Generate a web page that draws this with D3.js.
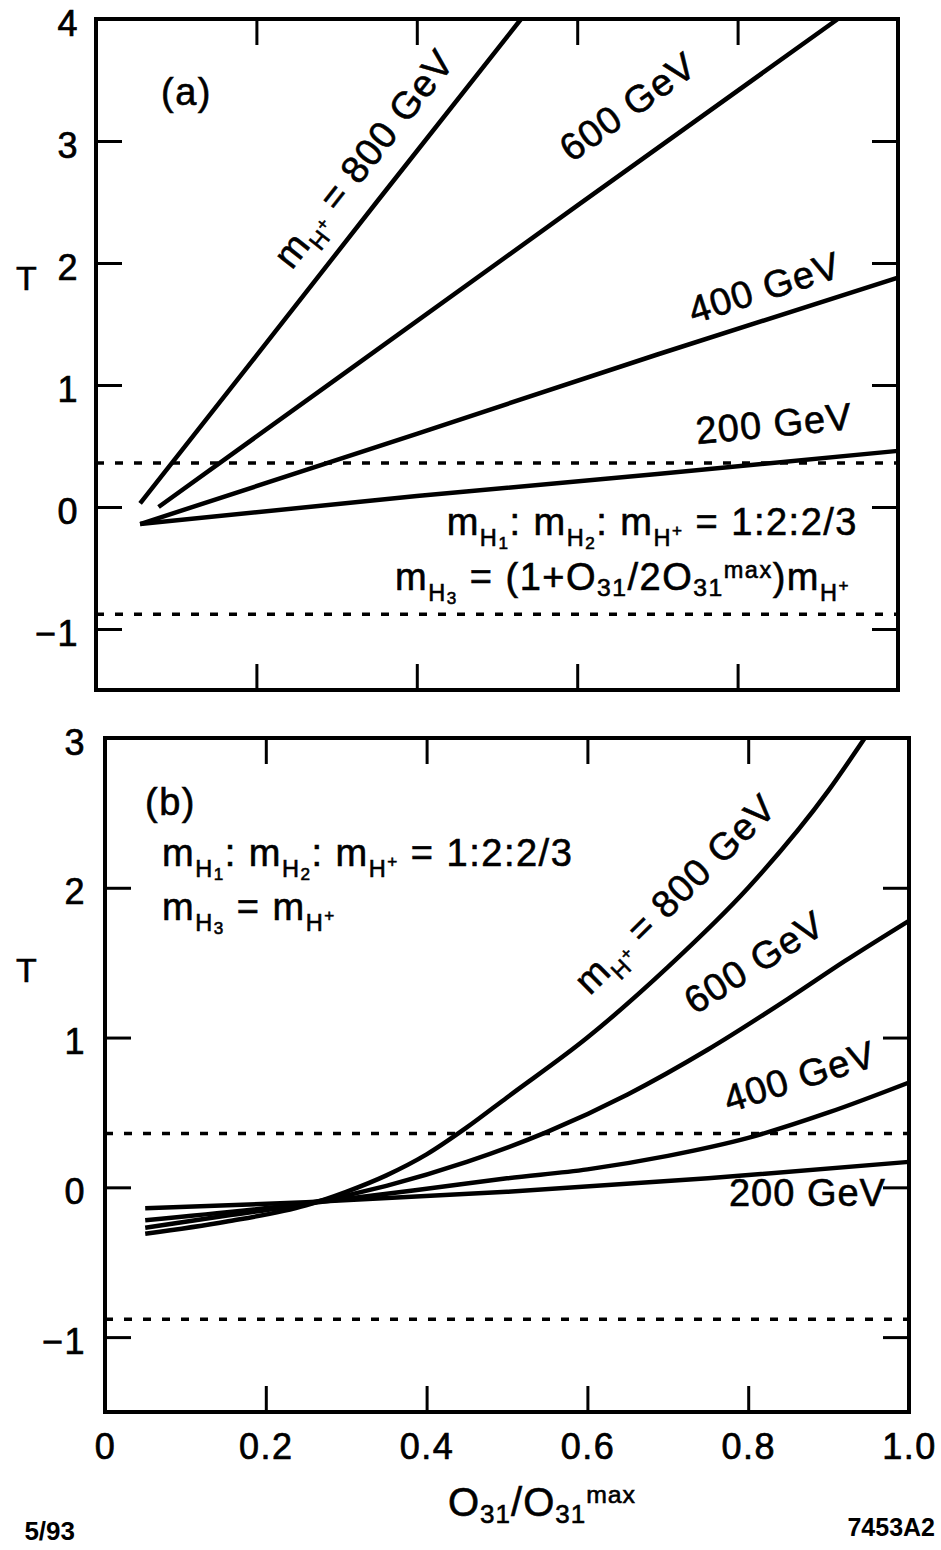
<!DOCTYPE html>
<meta charset="utf-8">
<script src="https://cdn.jsdelivr.net/npm/d3@7"></script>
<style>
  body { margin: 0; background: #fff; }
  text { font-family: "Liberation Sans", Arial, Helvetica, sans-serif; fill: #000; white-space: pre; }
</style>
<div id="chart"></div>
<script>
// shared x axis
var xTickVals = [0.2, 0.4, 0.6, 0.8];
var xLabelVals = [0, 0.2, 0.4, 0.6, 0.8, 1.0];
var xLabelText = ["0", "0.2", "0.4", "0.6", "0.8", "1.0"];
// experimental bounds on T (dashed)
var tBand = [0.36, -0.88];

// panel (a)
var aYTicks = [-1, 0, 1, 2, 3, 4];
var a800 = [[0.055, 0.03], [0.2, 1.24], [0.35, 2.5], [0.53, 4.0]];
var a600 = [[0.078, 0.0], [0.3, 1.05], [0.6, 2.47], [0.925, 4.0]];
var a400 = [[0.055, -0.14], [0.4, 0.6], [0.7, 1.25], [1.0, 1.88]];
var a200 = [[0.055, -0.14], [0.4, 0.09], [0.7, 0.27], [1.0, 0.46]];

// panel (b)
var bYTicks = [-1, 0, 1, 2, 3];
var b800 = [[0.05, -0.31], [0.15, -0.23], [0.25, -0.12], [0.3, -0.03], [0.35, 0.08], [0.4, 0.22],
            [0.45, 0.4], [0.5, 0.6], [0.6, 1.0], [0.7, 1.47], [0.8, 2.0], [0.9, 2.65], [0.945, 3.0]];
var b600 = [[0.05, -0.27], [0.15, -0.19], [0.25, -0.11], [0.35, 0.01], [0.45, 0.17], [0.55, 0.37],
            [0.65, 0.62], [0.75, 0.92], [0.85, 1.26], [0.92, 1.51], [1.0, 1.78]];
var b400 = [[0.05, -0.22], [0.25, -0.11], [0.4, -0.01], [0.5, 0.06], [0.6, 0.12], [0.7, 0.21],
            [0.8, 0.33], [0.9, 0.5], [1.0, 0.7]];
var b200 = [[0.05, -0.14], [0.25, -0.1], [0.5, -0.03], [0.75, 0.06], [1.0, 0.17]];

var svg = d3.select("#chart").append("svg")
    .attr("width", 941)
    .attr("height", 1550);

// text with sub/superscripts: parts = [[text, level]]
// levels: s = subscript, ss = subscript of subscript, sp = superscript on subscript,
//         d = digit subscript, u = superscript
function rich(t, parts, fs) {
  var lv = { "": [0, 1], s: [0.28, 0.62], ss: [0.38, 0.45], sp: [0.02, 0.45],
             d: [0.17, 0.65], u: [-0.32, 0.62] };
  var cur = 0;
  parts.forEach(function(p) {
    var l = lv[p[1]];
    var off = l[0] * fs;
    t.append("tspan")
      .attr("dy", off - cur)
      .style("font-size", (l[1] * fs) + "px")
      .text(p[0]);
    cur = off;
  });
}

function panel(cfg) {
  var x = d3.scaleLinear().domain([0, 1]).range(cfg.xr);
  var y = d3.scaleLinear().domain(cfg.yd).range(cfg.yr);
  var g = svg.append("g");

  // dashed bounds
  g.selectAll(".band").data(tBand).enter().append("line")
    .attr("x1", x(0)).attr("x2", x(1))
    .attr("y1", function(d) { return y(d); })
    .attr("y2", function(d) { return y(d); })
    .attr("stroke", "#000")
    .attr("stroke-width", 3.5)
    .attr("stroke-dasharray", "8,11");

  // curves
  var line = d3.line()
    .x(function(d) { return x(d[0]); })
    .y(function(d) { return y(d[1]); })
    .curve(cfg.curve);
  g.selectAll(".curve").data(cfg.series).enter().append("path")
    .attr("d", line)
    .attr("fill", "none")
    .attr("stroke", "#000")
    .attr("stroke-width", 4.5);

  // inward ticks on all four sides
  var tk = 26;
  function style(a) {
    a.select(".domain").remove();
    a.selectAll(".tick line").attr("stroke", "#000").attr("stroke-width", 3);
    a.attr("font-family", null).attr("font-size", null);
    a.selectAll("text").style("font-size", "36px").style("letter-spacing", "1.5px")
      .attr("dy", "0.45em")
      .attr("stroke", "#000").attr("stroke-width", 0.7);
  }
  g.append("g").attr("transform", "translate(" + x(0) + ",0)")
    .call(d3.axisLeft(y).tickValues(cfg.yTicks).tickSize(-tk).tickPadding(cfg.yPad)
      .tickFormat(function(d) { return d < 0 ? "\u2212" + (-d) : d; }))
    .call(style);
  g.append("g").attr("transform", "translate(" + x(1) + ",0)")
    .call(d3.axisRight(y).tickValues(cfg.yTicks).tickSize(-tk).tickFormat(""))
    .call(style);
  g.append("g").attr("transform", "translate(0," + y(cfg.yd[1]) + ")")
    .call(d3.axisTop(x).tickValues(xTickVals).tickSize(-tk).tickFormat(""))
    .call(style);
  g.append("g").attr("transform", "translate(0," + y(cfg.yd[0]) + ")")
    .call(d3.axisBottom(x).tickValues(xTickVals).tickSize(-tk).tickFormat(""))
    .call(style);

  // frame
  g.append("rect")
    .attr("x", x(0)).attr("y", y(cfg.yd[1]))
    .attr("width", x(1) - x(0))
    .attr("height", y(cfg.yd[0]) - y(cfg.yd[1]))
    .attr("fill", "none")
    .attr("stroke", "#000")
    .attr("stroke-width", 4);

  return { x: x, y: y, g: g };
}

var FS = 38;

// put a label parallel to a curve, offset perpendicular (positive = upper-left side)
function curveLabel(p, series, xAt, off, parts, flat) {
  var i = 0;
  while (i < series.length - 2 && series[i + 1][0] < xAt) i++;
  var a = series[i], b = series[i + 1];
  var ax = p.x(a[0]), ay = p.y(a[1]), bx = p.x(b[0]), by = p.y(b[1]);
  var f = (p.x(xAt) - ax) / (bx - ax);
  var px = ax + f * (bx - ax), py = ay + f * (by - ay);
  var len = Math.hypot(bx - ax, by - ay);
  var dx = (bx - ax) / len, dy = (by - ay) / len;
  var cx = px + dy * off, cy = py - dx * off;
  var ang = flat ? 0 : Math.atan2(by - ay, bx - ax) * 180 / Math.PI;
  var t = p.g.append("text")
    .attr("transform", "translate(" + cx + "," + cy + ") rotate(" + ang + ")")
    .attr("text-anchor", "middle")
    .attr("stroke", "#000").attr("stroke-width", 0.6)
    .style("letter-spacing", "1px")
    .style("font-size", FS + "px");
  var inner = t.append("tspan").attr("dy", "0.36em");
  rich(inner, parts, FS);
}

function note(x, y, anchor, parts, fs, ls) {
  fs = fs || FS;
  var t = svg.append("text").attr("x", x).attr("y", y).attr("text-anchor", anchor)
    .attr("stroke", "#000").attr("stroke-width", 0.6)
    .style("letter-spacing", (ls == null ? 1.5 : ls) + "px")
    .style("font-size", fs + "px");
  rich(t, parts, fs);
}

var pa = panel({
  xr: [96, 898], yd: [-1.5, 4], yr: [690, 19], yTicks: aYTicks, yPad: 17,
  series: [a800, a600, a400, a200], curve: d3.curveLinear
});
var pb = panel({
  xr: [105, 909], yd: [-1.5, 3], yr: [1412, 738], yTicks: bYTicks, yPad: 19,
  series: [b800, b600, b400, b200], curve: d3.curveMonotoneX
});

var mHp = [["m", ""], ["H", "s"], ["+", "sp"]];
var ratioParts = [["m", ""], ["H", "s"], ["1", "ss"], [": m", ""], ["H", "s"], ["2", "ss"],
                  [": m", ""], ["H", "s"], ["+", "sp"], [" = 1:2:2/3", ""]];

// panel (a) annotations
curveLabel(pa, a800, 0.37, 24, mHp.concat([[" = 800 GeV", ""]]));
curveLabel(pa, a600, 0.70, 38, [["600 GeV", ""]]);
curveLabel(pa, a400, 0.845, 18, [["400 GeV", ""]]);
curveLabel(pa, a200, 0.85, 26, [["200 GeV", ""]]);
note(161, 105, "start", [["(a)", ""]]);
note(858, 535, "end", ratioParts);
note(850, 590, "end", [["m", ""], ["H", "s"], ["3", "ss"], [" = (1+O", ""], ["31", "d"], ["/2O", ""],
                       ["31", "d"], ["max", "u"], [")m", ""], ["H", "s"], ["+", "sp"]]);

// panel (b) annotations
curveLabel(pb, b800, 0.75, 34, mHp.concat([[" = 800 GeV", ""]]));
curveLabel(pb, b600, 0.84, 36, [["600 GeV", ""]]);
curveLabel(pb, b400, 0.88, 30, [["400 GeV", ""]]);
curveLabel(pb, b200, 0.87, -36, [["200 GeV", ""]], true);
note(145, 815, "start", [["(b)", ""]]);
note(162, 866, "start", ratioParts);
note(162, 920, "start", mHp.slice(0, 2).concat([["3", "ss"], [" = m", ""], ["H", "s"], ["+", "sp"]]));

// y titles
note(16, 290, "start", [["T", ""]], 34, 0);
note(16, 982, "start", [["T", ""]], 34, 0);

// x labels under panel (b)
svg.append("g").attr("transform", "translate(0," + pb.y(-1.5) + ")")
  .call(d3.axisBottom(pb.x).tickValues(xLabelVals).tickSize(0).tickPadding(21)
    .tickFormat(function(d, i) { return xLabelText[i]; }))
  .call(function(a) {
    a.select(".domain").remove();
    a.attr("font-family", null).attr("font-size", null);
    a.selectAll("text").style("font-size", "36px").style("letter-spacing", "1.5px")
      .attr("stroke", "#000").attr("stroke-width", 0.7);
  });

// x title
note(542, 1516, "middle", [["O", ""], ["31", "d"], ["/O", ""], ["31", "d"], ["max", "u"]], 40, 1);

svg.append("text").attr("x", 75).attr("y", 1540).attr("text-anchor", "end")
  .style("font-size", "26px").style("font-weight", "bold").text("5/93");
svg.append("text").attr("x", 935).attr("y", 1536).attr("text-anchor", "end")
  .style("font-size", "25px").style("font-weight", "bold").text("7453A2");
</script>
